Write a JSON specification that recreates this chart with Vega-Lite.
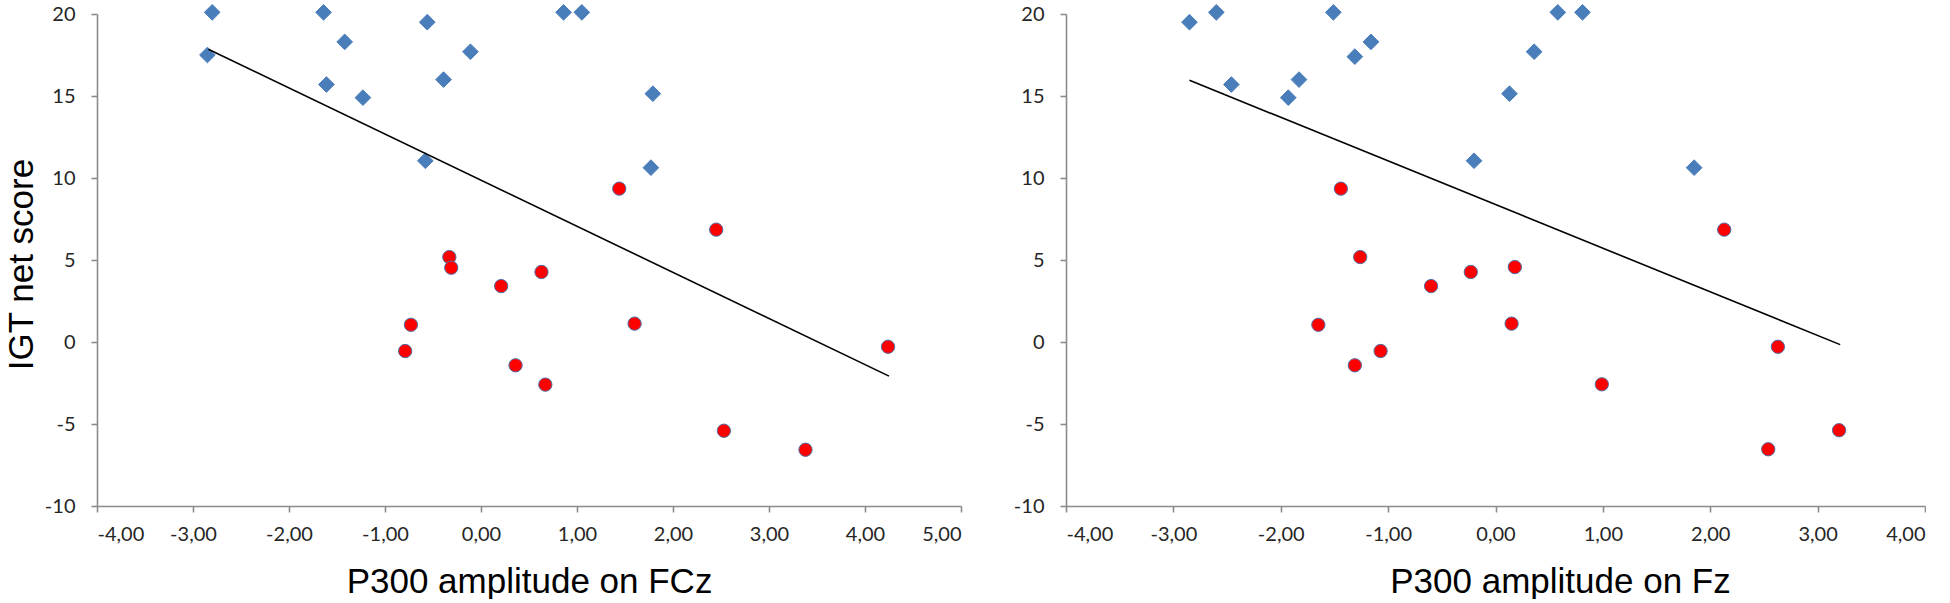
{
  "$schema": "https://vega.github.io/schema/vega-lite/v6.json",
  "background": "white",
  "padding": {"left": 4, "top": 2, "right": 0, "bottom": 0},
  "datasets": {
    "fcz": [
      {"amp": -2.80, "igt": 20.1, "group": "A"},
      {"amp": -2.85, "igt": 17.5, "group": "A"},
      {"amp": -1.64, "igt": 20.1, "group": "A"},
      {"amp": -1.42, "igt": 18.3, "group": "A"},
      {"amp": -1.61, "igt": 15.7, "group": "A"},
      {"amp": -1.23, "igt": 14.9, "group": "A"},
      {"amp": -0.56, "igt": 19.5, "group": "A"},
      {"amp": -0.39, "igt": 16.0, "group": "A"},
      {"amp": -0.58, "igt": 11.05, "group": "A"},
      {"amp": -0.11, "igt": 17.7, "group": "A"},
      {"amp": 0.86, "igt": 20.1, "group": "A"},
      {"amp": 1.05, "igt": 20.1, "group": "A"},
      {"amp": 1.79, "igt": 15.14, "group": "A"},
      {"amp": 1.77, "igt": 10.63, "group": "A"},
      {"amp": -0.33, "igt": 5.18, "group": "B"},
      {"amp": -0.31, "igt": 4.53, "group": "B"},
      {"amp": -0.73, "igt": 1.05, "group": "B"},
      {"amp": -0.79, "igt": -0.55, "group": "B"},
      {"amp": 1.44, "igt": 9.35, "group": "B"},
      {"amp": 2.45, "igt": 6.85, "group": "B"},
      {"amp": 0.63, "igt": 4.27, "group": "B"},
      {"amp": 0.21, "igt": 3.41, "group": "B"},
      {"amp": 1.60, "igt": 1.12, "group": "B"},
      {"amp": 0.36, "igt": -1.42, "group": "B"},
      {"amp": 0.67, "igt": -2.6, "group": "B"},
      {"amp": 2.53, "igt": -5.41, "group": "B"},
      {"amp": 3.38, "igt": -6.57, "group": "B"},
      {"amp": 4.24, "igt": -0.29, "group": "B"}
    ],
    "fz": [
      {"amp": -2.85, "igt": 19.5, "group": "A"},
      {"amp": -2.60, "igt": 20.1, "group": "A"},
      {"amp": -1.51, "igt": 20.1, "group": "A"},
      {"amp": -1.16, "igt": 18.3, "group": "A"},
      {"amp": -1.31, "igt": 17.4, "group": "A"},
      {"amp": -2.46, "igt": 15.7, "group": "A"},
      {"amp": -1.83, "igt": 16.0, "group": "A"},
      {"amp": -1.93, "igt": 14.9, "group": "A"},
      {"amp": 0.58, "igt": 20.1, "group": "A"},
      {"amp": 0.81, "igt": 20.1, "group": "A"},
      {"amp": 0.36, "igt": 17.7, "group": "A"},
      {"amp": 0.13, "igt": 15.14, "group": "A"},
      {"amp": -0.20, "igt": 11.05, "group": "A"},
      {"amp": 1.85, "igt": 10.63, "group": "A"},
      {"amp": -1.44, "igt": 9.35, "group": "B"},
      {"amp": -1.26, "igt": 5.18, "group": "B"},
      {"amp": -0.60, "igt": 3.41, "group": "B"},
      {"amp": -0.23, "igt": 4.27, "group": "B"},
      {"amp": 0.18, "igt": 4.57, "group": "B"},
      {"amp": 0.15, "igt": 1.12, "group": "B"},
      {"amp": -1.65, "igt": 1.05, "group": "B"},
      {"amp": -1.07, "igt": -0.55, "group": "B"},
      {"amp": -1.31, "igt": -1.42, "group": "B"},
      {"amp": 0.99, "igt": -2.58, "group": "B"},
      {"amp": 2.63, "igt": -0.29, "group": "B"},
      {"amp": 2.54, "igt": -6.54, "group": "B"},
      {"amp": 3.20, "igt": -5.38, "group": "B"},
      {"amp": 2.13, "igt": 6.85, "group": "B"}
    ],
    "fcz_fit": [
      {"amp": -2.84, "igt": 17.85},
      {"amp": 4.25, "igt": -2.08}
    ],
    "fz_fit": [
      {"amp": -2.85, "igt": 15.96},
      {"amp": 3.21, "igt": -0.16}
    ]
  },
  "hconcat": [
    {
      "width": 864,
      "height": 492,
      "layer": [
        {
          "data": {"name": "fcz"},
          "mark": {"type": "point", "filled": true, "opacity": 1, "strokeWidth": 1},
          "encoding": {
            "x": {
              "field": "amp",
              "type": "quantitative",
              "scale": {"domain": [-4, 5], "nice": false},
              "axis": {"values": [-4, -3, -2, -1, 0, 1, 2, 3, 4, 5], "title": "P300 amplitude on FCz"}
            },
            "y": {
              "field": "igt",
              "type": "quantitative",
              "scale": {"domain": [-10, 20], "nice": false},
              "axis": {"values": [-10, -5, 0, 5, 10, 15, 20], "title": "IGT net score", "titleX": -65, "titleY": 250, "titleBaseline": "alphabetic", "titleAngle": -90}
            },
            "shape": {"field": "group", "type": "nominal", "scale": {"domain": ["A", "B"], "range": ["diamond", "circle"]}, "legend": null},
            "size": {"field": "group", "type": "nominal", "scale": {"domain": ["A", "B"], "range": [246, 177]}, "legend": null},
            "color": {"field": "group", "type": "nominal", "scale": {"domain": ["A", "B"], "range": ["#4a7ebb", "#ff0000"]}, "legend": null},
            "stroke": {"field": "group", "type": "nominal", "scale": {"domain": ["A", "B"], "range": ["#4a7ebb", "#4f6fa8"]}, "legend": null}
          }
        },
        {
          "data": {"name": "fcz_fit"},
          "mark": {"type": "line", "color": "black", "strokeWidth": 1.6},
          "encoding": {
            "x": {"field": "amp", "type": "quantitative"},
            "y": {"field": "igt", "type": "quantitative"}
          }
        }
      ]
    },
    {
      "width": 859,
      "height": 492,
      "layer": [
        {
          "data": {"name": "fz"},
          "mark": {"type": "point", "filled": true, "opacity": 1, "strokeWidth": 1},
          "encoding": {
            "x": {
              "field": "amp",
              "type": "quantitative",
              "scale": {"domain": [-4, 4], "nice": false},
              "axis": {"values": [-4, -3, -2, -1, 0, 1, 2, 3, 4], "title": "P300 amplitude on Fz", "titleX": 494}
            },
            "y": {
              "field": "igt",
              "type": "quantitative",
              "scale": {"domain": [-10, 20], "nice": false},
              "axis": {"values": [-10, -5, 0, 5, 10, 15, 20], "title": null}
            },
            "shape": {"field": "group", "type": "nominal", "scale": {"domain": ["A", "B"], "range": ["diamond", "circle"]}, "legend": null},
            "size": {"field": "group", "type": "nominal", "scale": {"domain": ["A", "B"], "range": [246, 177]}, "legend": null},
            "color": {"field": "group", "type": "nominal", "scale": {"domain": ["A", "B"], "range": ["#4a7ebb", "#ff0000"]}, "legend": null},
            "stroke": {"field": "group", "type": "nominal", "scale": {"domain": ["A", "B"], "range": ["#4a7ebb", "#4f6fa8"]}, "legend": null}
          }
        },
        {
          "data": {"name": "fz_fit"},
          "mark": {"type": "line", "color": "black", "strokeWidth": 1.6},
          "encoding": {
            "x": {"field": "amp", "type": "quantitative"},
            "y": {"field": "igt", "type": "quantitative"}
          }
        }
      ]
    }
  ],
  "spacing": 105,
  "bounds": "flush",
  "resolve": {"scale": {"x": "independent", "y": "independent"}},
  "config": {
    "locale": {
      "number": {"decimal": ",", "thousands": ".", "grouping": [3], "currency": ["", ""], "minus": "-"}
    },
    "view": {"stroke": null},
    "axis": {
      "grid": false,
      "domainColor": "#8c8c8c",
      "domainWidth": 1.6,
      "tickColor": "#8c8c8c",
      "tickWidth": 1.6,
      "tickSize": 6,
      "labelFont": "Lato",
      "labelFontSize": 20,
      "labelColor": "#262626",
      "titleFont": "Liberation Sans",
      "titleFontSize": 35,
      "titleFontWeight": "normal",
      "titleColor": "black"
    },
    "axisX": {"labelPadding": 12, "format": ".2f", "titleY": 86, "titleBaseline": "alphabetic"},
    "axisY": {"labelPadding": 16, "format": "d"}
  }
}
